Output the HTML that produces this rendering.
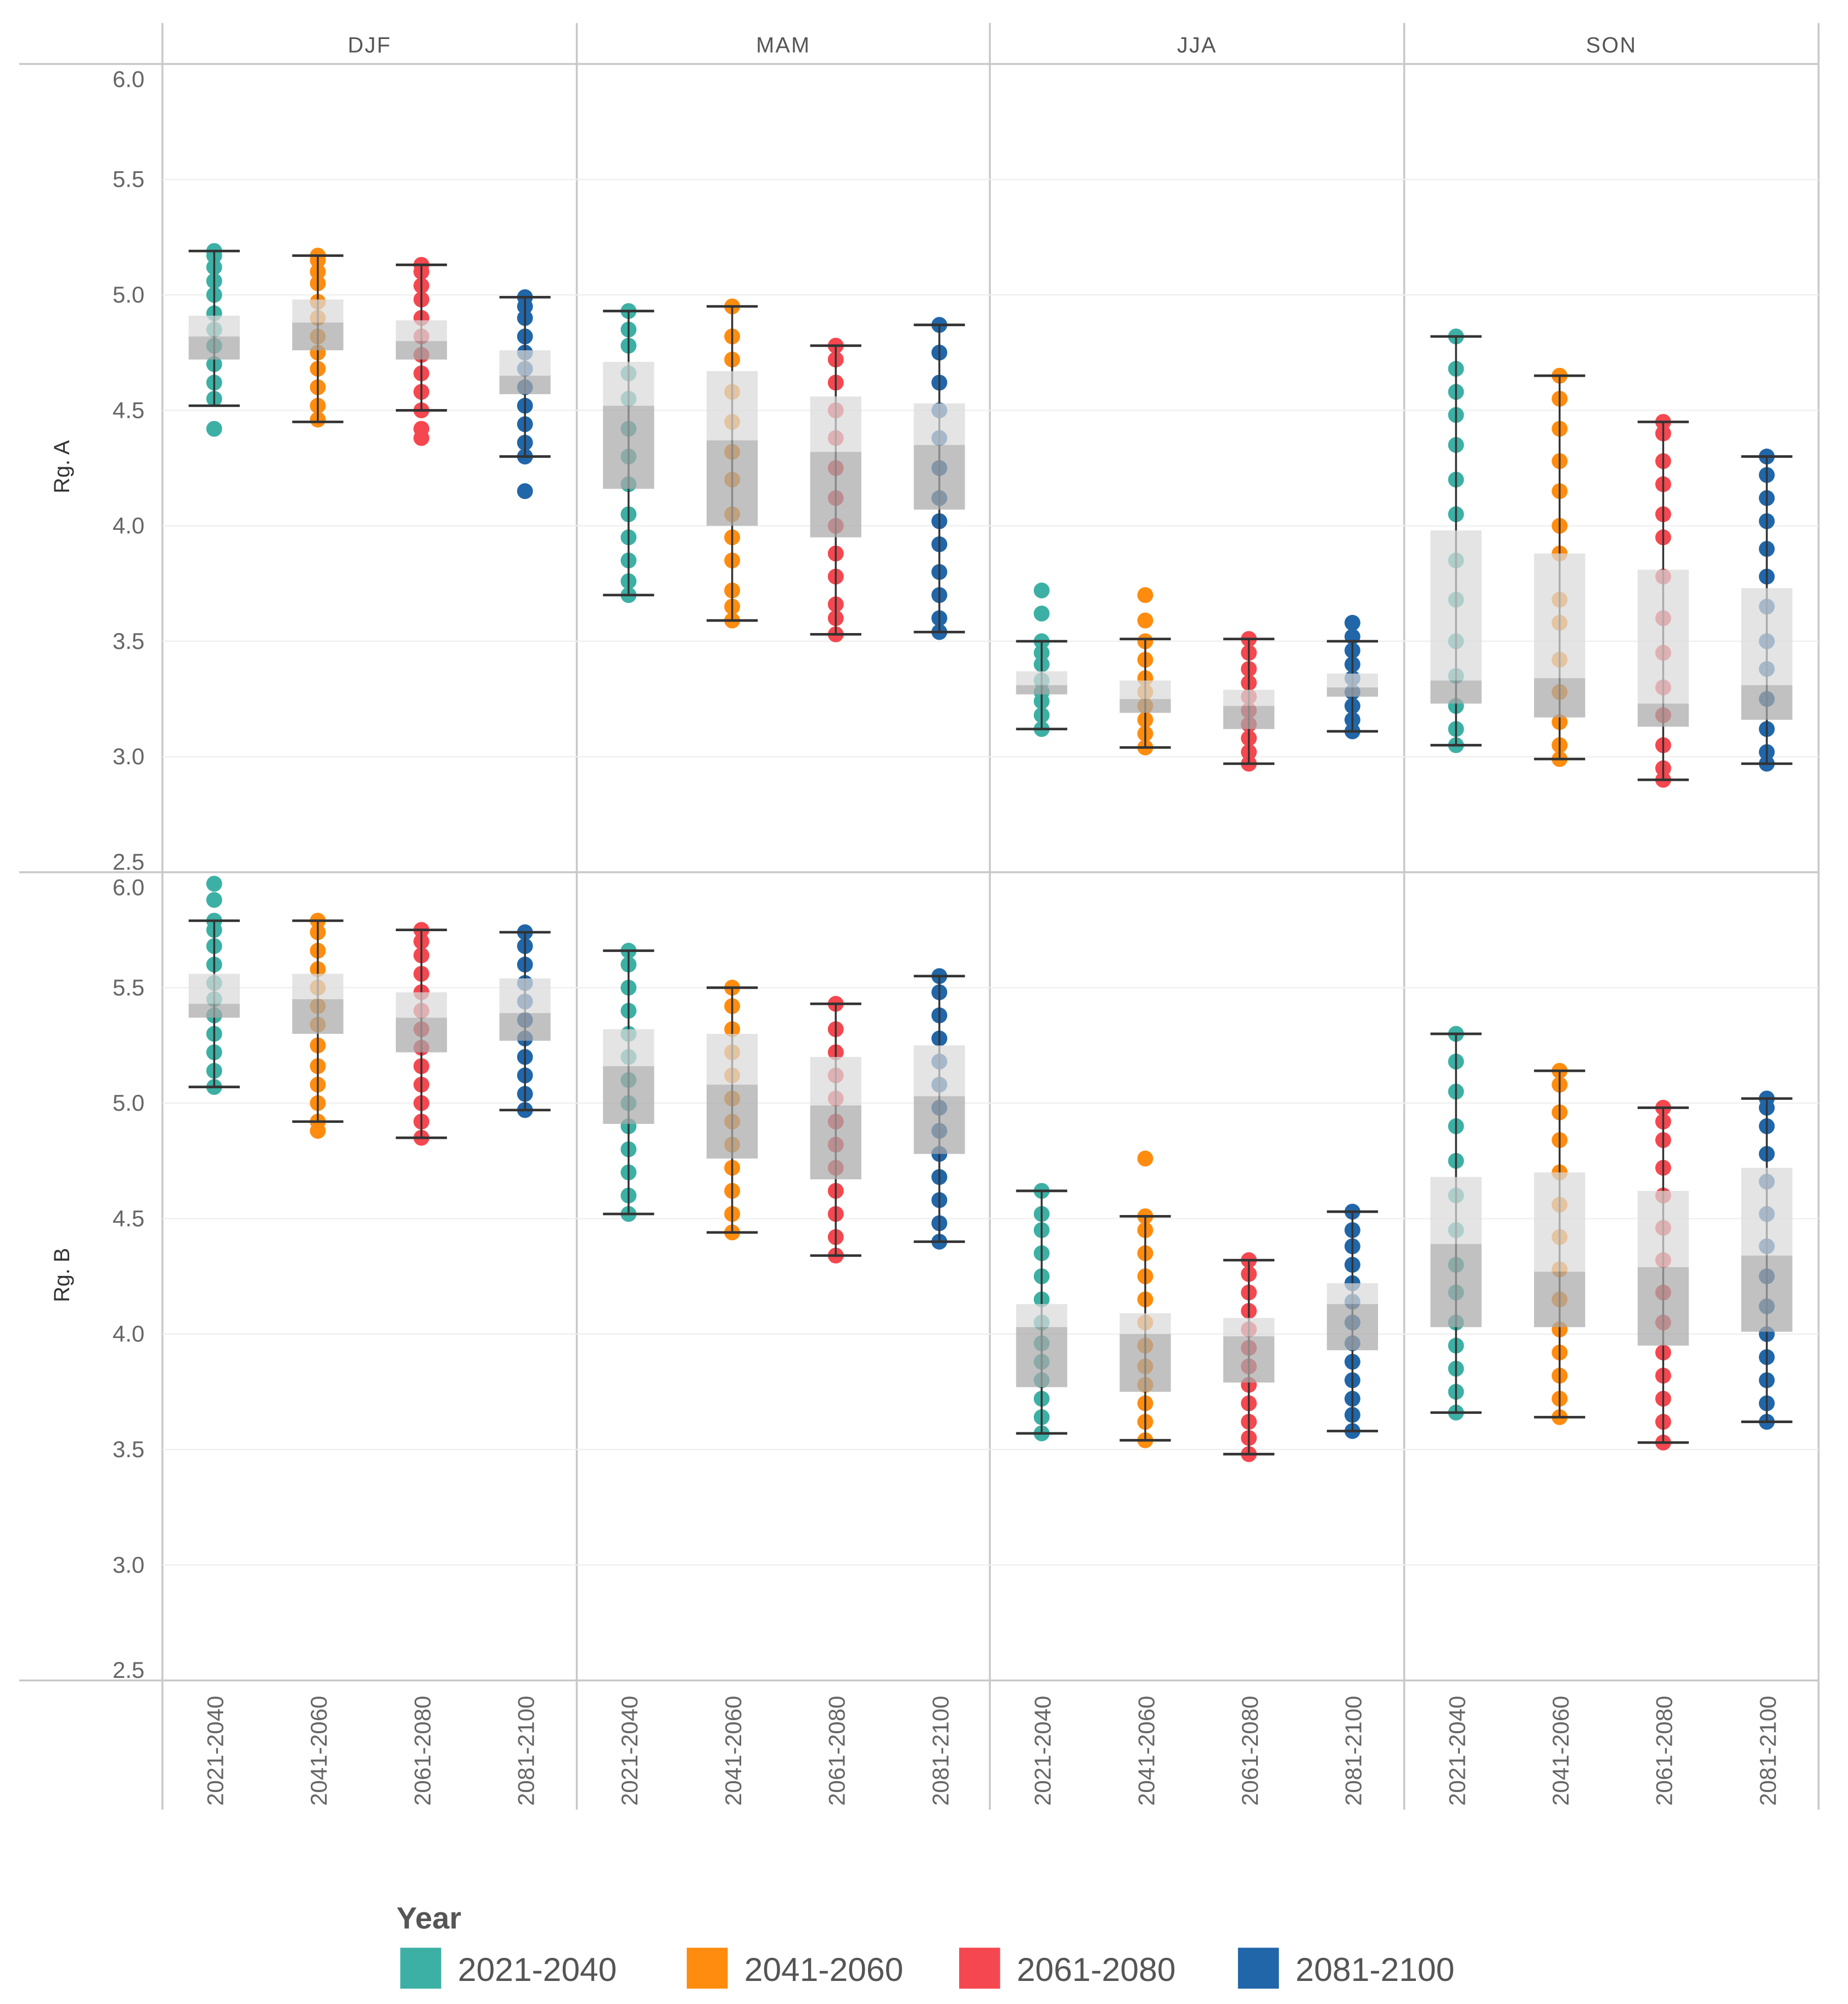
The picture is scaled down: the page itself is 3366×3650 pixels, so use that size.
<!DOCTYPE html>
<html><head><meta charset="utf-8"><style>
html,body{margin:0;padding:0;background:#fff}
svg{display:block}
text{font-family:"Liberation Sans",sans-serif}
</style></head><body>
<svg id="chart" width="3366" height="3650" viewBox="0 0 1445 1567" preserveAspectRatio="none" xmlns="http://www.w3.org/2000/svg"></svg>
<script>
const seasons=["DJF","MAM","JJA","SON"];
const periods=["2021-2040","2041-2060","2061-2080","2081-2100"];
const regions=["Rg. A","Rg. B"];
const colors=["#3db0a5","#ff8c0f","#f5474f","#2166a8"];
const yTicks=[2.5,3.0,3.5,4.0,4.5,5.0,5.5,6.0];
// [whiskerLow, q1, median, q3, whiskerHigh] per region, season, period
const statsA=[
 [[4.52,4.72,4.82,4.91,5.19],[4.45,4.76,4.88,4.98,5.17],[4.50,4.72,4.80,4.89,5.13],[4.30,4.57,4.65,4.76,4.99]],
 [[3.70,4.16,4.52,4.71,4.93],[3.59,4.00,4.37,4.67,4.95],[3.53,3.95,4.32,4.56,4.78],[3.54,4.07,4.35,4.53,4.87]],
 [[3.12,3.27,3.31,3.37,3.50],[3.04,3.19,3.25,3.33,3.51],[2.97,3.12,3.22,3.29,3.51],[3.11,3.26,3.30,3.36,3.50]],
 [[3.05,3.23,3.33,3.98,4.82],[2.99,3.17,3.34,3.88,4.65],[2.90,3.13,3.23,3.81,4.45],[2.97,3.16,3.31,3.73,4.30]]];
const statsB=[
 [[5.07,5.37,5.43,5.56,5.79],[4.92,5.30,5.45,5.56,5.79],[4.85,5.22,5.37,5.48,5.75],[4.97,5.27,5.39,5.54,5.74]],
 [[4.52,4.91,5.16,5.32,5.66],[4.44,4.76,5.08,5.30,5.50],[4.34,4.67,4.99,5.20,5.43],[4.40,4.78,5.03,5.25,5.55]],
 [[3.57,3.77,4.03,4.13,4.62],[3.54,3.75,4.00,4.09,4.51],[3.48,3.79,3.99,4.07,4.32],[3.58,3.93,4.13,4.22,4.53]],
 [[3.66,4.03,4.39,4.68,5.30],[3.64,4.03,4.27,4.70,5.14],[3.53,3.95,4.29,4.62,4.98],[3.62,4.01,4.34,4.72,5.02]]];
const dotsA=[
 [[4.42,4.55,4.62,4.70,4.78,4.85,4.92,5.00,5.06,5.12,5.17,5.19],[4.46,4.52,4.60,4.68,4.75,4.82,4.90,4.97,5.05,5.10,5.15,5.17],[4.38,4.42,4.50,4.58,4.66,4.74,4.82,4.90,4.98,5.04,5.10,5.13],[4.15,4.30,4.36,4.44,4.52,4.60,4.68,4.75,4.82,4.90,4.95,4.99]],
 [[3.70,3.76,3.85,3.95,4.05,4.18,4.30,4.42,4.55,4.66,4.78,4.85,4.93],[3.59,3.65,3.72,3.85,3.95,4.05,4.20,4.32,4.45,4.58,4.72,4.82,4.95],[3.53,3.60,3.66,3.78,3.88,4.00,4.12,4.25,4.38,4.50,4.62,4.72,4.78],[3.54,3.60,3.70,3.80,3.92,4.02,4.12,4.25,4.38,4.50,4.62,4.75,4.87]],
 [[3.12,3.18,3.24,3.28,3.33,3.40,3.45,3.50,3.62,3.72],[3.04,3.10,3.16,3.22,3.28,3.34,3.42,3.50,3.59,3.70],[2.97,3.02,3.08,3.14,3.20,3.26,3.32,3.38,3.45,3.51],[3.11,3.16,3.22,3.28,3.34,3.40,3.46,3.52,3.58]],
 [[3.05,3.12,3.22,3.35,3.50,3.68,3.85,4.05,4.20,4.35,4.48,4.58,4.68,4.82],[2.99,3.05,3.15,3.28,3.42,3.58,3.68,3.88,4.00,4.15,4.28,4.42,4.55,4.65],[2.90,2.95,3.05,3.18,3.30,3.45,3.60,3.78,3.95,4.05,4.18,4.28,4.40,4.45],[2.97,3.02,3.12,3.25,3.38,3.50,3.65,3.78,3.90,4.02,4.12,4.22,4.30]]];
const dotsB=[
 [[5.07,5.14,5.22,5.30,5.38,5.45,5.52,5.60,5.68,5.75,5.79,5.88,5.95],[4.88,4.92,5.00,5.08,5.16,5.25,5.34,5.42,5.50,5.58,5.66,5.74,5.79],[4.85,4.92,5.00,5.08,5.16,5.24,5.32,5.40,5.48,5.56,5.64,5.70,5.75],[4.97,5.04,5.12,5.20,5.28,5.36,5.44,5.52,5.60,5.68,5.74]],
 [[4.52,4.60,4.70,4.80,4.90,5.00,5.10,5.20,5.30,5.40,5.50,5.60,5.66],[4.44,4.52,4.62,4.72,4.82,4.92,5.02,5.12,5.22,5.32,5.42,5.50],[4.34,4.42,4.52,4.62,4.72,4.82,4.92,5.02,5.12,5.22,5.32,5.43],[4.40,4.48,4.58,4.68,4.78,4.88,4.98,5.08,5.18,5.28,5.38,5.48,5.55]],
 [[3.57,3.64,3.72,3.80,3.88,3.96,4.05,4.15,4.25,4.35,4.45,4.52,4.62],[3.54,3.62,3.70,3.78,3.86,3.95,4.05,4.15,4.25,4.35,4.45,4.51,4.76],[3.48,3.55,3.62,3.70,3.78,3.86,3.94,4.02,4.10,4.18,4.26,4.32],[3.58,3.65,3.72,3.80,3.88,3.96,4.05,4.14,4.22,4.30,4.38,4.45,4.53]],
 [[3.66,3.75,3.85,3.95,4.05,4.18,4.30,4.45,4.60,4.75,4.90,5.05,5.18,5.30],[3.64,3.72,3.82,3.92,4.02,4.15,4.28,4.42,4.56,4.70,4.84,4.96,5.08,5.14],[3.53,3.62,3.72,3.82,3.92,4.05,4.18,4.32,4.46,4.60,4.72,4.84,4.92,4.98],[3.62,3.70,3.80,3.90,4.00,4.12,4.25,4.38,4.52,4.66,4.78,4.90,4.98,5.02]]];

const svg=document.getElementById('chart');
const NS="http://www.w3.org/2000/svg";
function mk(tag,attrs,parent){const e=document.createElementNS(NS,tag);for(const k in attrs)e.setAttribute(k,attrs[k]);(parent||svg).appendChild(e);return e;}
const colX=[127,451,774,1098,1422];
const panelTop=[50,682];
function yScale(p,v){return panelTop[p]+(6.0-v)*(632/3.5);}
function xScale(s,i){return colX[s]+40.5+81*i;}
const frame=mk('g',{});


for(const x of colX){mk('line',{x1:x,y1:18,x2:x,y2:1415,stroke:'#c8c8c8','stroke-width':1.5},frame);}
for(const y of [50,682,1314]){mk('line',{x1:15,y1:y,x2:1422,y2:y,stroke:'#c8c8c8','stroke-width':1.5},frame);}
for(let p=0;p<2;p++){for(const t of yTicks){if(t===6.0||t===2.5)continue;const y=yScale(p,t);mk('line',{x1:127,y1:y,x2:1422,y2:y,stroke:'#efefef','stroke-width':1},frame);}}
seasons.forEach((s,i)=>{const t=mk('text',{x:(colX[i]+colX[i+1])/2,y:41,'text-anchor':'middle','font-size':17,fill:'#555','letter-spacing':'1'});t.textContent=s;

});
for(let p=0;p<2;p++){for(const v of yTicks){let y=yScale(p,v)+6;if(v===6.0)y+=12;if(v===2.5)y-=8;const t=mk('text',{x:113,y:y,'text-anchor':'end','font-size':18,fill:'#666'});t.textContent=v.toFixed(1);

}
const yl=mk('text',{transform:`translate(54,${p===0?365:997}) rotate(-90)`,'text-anchor':'middle','font-size':17,fill:'#333'});yl.textContent=regions[p];

}
for(let s=0;s<4;s++)for(let i=0;i<4;i++){const x=xScale(s,i);const t=mk('text',{transform:`translate(${x+7},1412) rotate(-90)`,'text-anchor':'start','font-size':18,fill:'#666'});t.textContent=periods[i];

}
const allStats=[statsA,statsB], allDots=[dotsA,dotsB];
for(let p=0;p<2;p++)for(let s=0;s<4;s++)for(let i=0;i<4;i++){
 const st=allStats[p][s][i], d=allDots[p][s][i], x=xScale(s,i);
 const g=mk('g',{});
 
 
 for(const v of d){const c=mk('circle',{cx:x,cy:yScale(p,v),r:6.2,fill:colors[i]},g);
 
 }
 mk('line',{x1:x,y1:yScale(p,st[0]),x2:x,y2:yScale(p,st[4]),stroke:'#333','stroke-width':1.5},g);
 mk('rect',{x:x-20,y:yScale(p,st[3]),width:40,height:yScale(p,st[2])-yScale(p,st[3]),fill:'#d9d9d9','fill-opacity':0.72},g);
 mk('rect',{x:x-20,y:yScale(p,st[2]),width:40,height:yScale(p,st[1])-yScale(p,st[2]),fill:'#a9a9a9','fill-opacity':0.72},g);
 for(const v of [st[0],st[4]])mk('line',{x1:x-20,y1:yScale(p,v),x2:x+20,y2:yScale(p,v),stroke:'#333','stroke-width':2},g);
}
const lg=mk('g',{});


const lt=mk('text',{x:310,y:1508,'font-size':24,'font-weight':'bold',fill:'#555'},lg);lt.textContent='Year';
const lx=[313,537,750,968];
periods.forEach((pr,i)=>{mk('rect',{x:lx[i],y:1523,width:32,height:32,fill:colors[i]},lg);
const t=mk('text',{x:lx[i]+45,y:1549,'font-size':26,fill:'#555'},lg);t.textContent=pr;

});
</script>
</body></html>
